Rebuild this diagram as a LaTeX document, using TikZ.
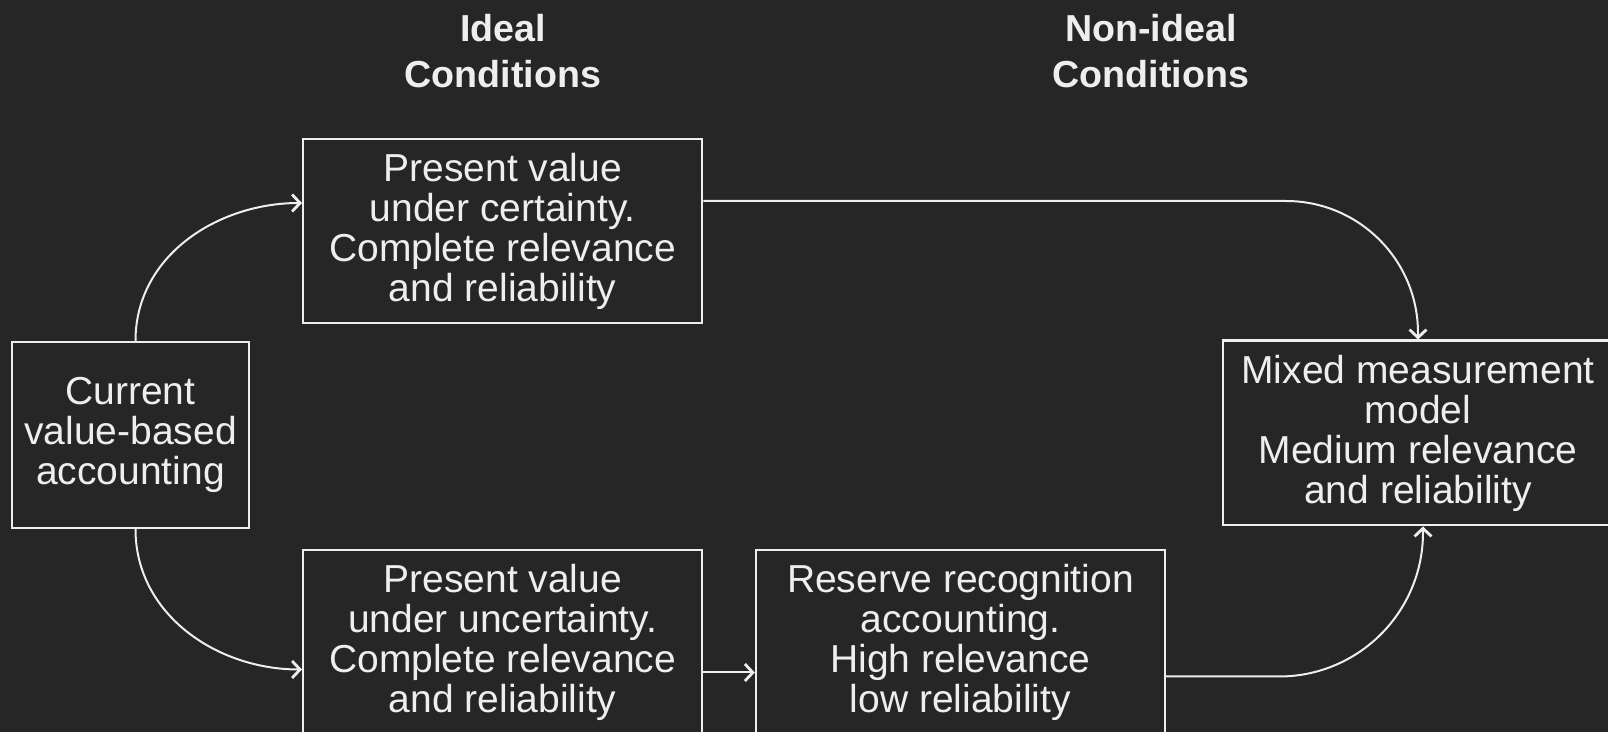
\documentclass[tikz,border=0pt]{standalone}
\usepackage{fontspec}
\setmainfont{Liberation Sans}
\usetikzlibrary{arrows.meta}
\definecolor{bgdark}{HTML}{262626}
\definecolor{inkwhite}{HTML}{EEEEEE}
\tikzset{
	box/.style={draw=inkwhite, line width=1.2pt, text=inkwhite, align=center, inner sep=0pt, font=\fontsize{19.5}{20}\selectfont},
	link/.style={draw=inkwhite, line width=1pt, -{Straight Barb[length=4pt,width=8.5pt,line width=1.4pt]}},
	heading/.style={text=inkwhite, align=center, font=\fontsize{18.8}{22.8}\selectfont\bfseries}
}

\begin{document}
\begin{tikzpicture}[x=0.5pt, y=0.5pt]
		\fill[bgdark] (0,0) rectangle (1608,-732);
		\useasboundingbox (0,0) rectangle (1608,-732);
		
		\node[heading] (idealhead) at (503,-51) {Ideal\\Conditions};
		\node[heading] (nonidealhead) at (1151,-51) {Non-ideal\\Conditions};
		
		\node[box, minimum width=118.5pt, minimum height=93pt] (current) at (130.5,-435) {Current\\value-based\\accounting};
		\node[box, minimum width=199.5pt, minimum height=92.25pt] (certain) at (502.7,-231) {Present value\\under certainty.\\Complete relevance\\and reliability};
		\node[box, minimum width=199.5pt, minimum height=92.5pt] (uncertain) at (502.7,-642.5) {Present value\\under uncertainty.\\Complete relevance\\and reliability};
		\node[box, minimum width=204.5pt, minimum height=92.5pt] (reserve) at (960.5,-642.5) {Reserve recognition\\accounting.\\High relevance\\low reliability};
		\node[box, minimum width=195pt, minimum height=92.3pt] (mixed) at (1418,-433) {Mixed measurement\\model\\Medium relevance\\and reliability};
		
		\draw[link] ([xshift=2.5pt]current.north) to[out=90, in=180] ([yshift=14pt]certain.west);
		\draw[link] ([xshift=2.5pt]current.south) to[out=-90, in=180] ([yshift=-13.5pt]uncertain.west);
		\draw[link] ([yshift=-15pt]uncertain.east) -- ([yshift=-15pt]reserve.west);
		\draw[link, rounded corners=66pt] ([yshift=15pt]certain.east) -| (mixed.north);
		\draw[link, rounded corners=72pt] ([yshift=-17pt]reserve.east) -| ([xshift=2.5pt]mixed.south);
\end{tikzpicture}
\end{document}
